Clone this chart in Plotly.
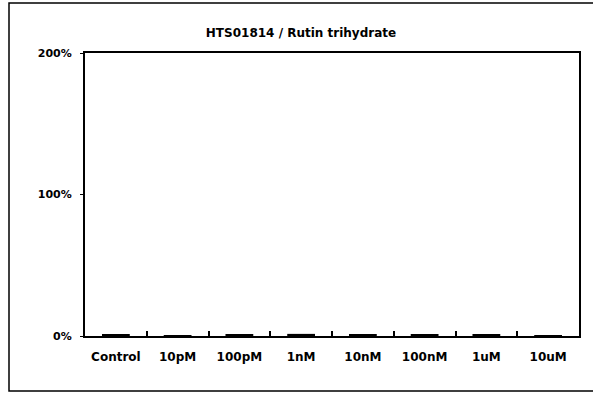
import plotly.graph_objects as go

# Assay result: response relative to control for each concentration
categories = ["Control", "10pM", "100pM", "1nM", "10nM", "100nM", "1uM", "10uM"]
response_pct = [1.0, 0.6, 1.0, 1.5, 1.4, 1.3, 1.4, 0.3]
y_ticks = [0, 100, 200]
y_tick_labels = ["0%", "100%", "200%"]
title_text = "HTS01814 / Rutin trihydrate"

W, H = 593, 394
L, R, T, B = 85, 14, 53, 58
pw, ph = W - L - R, H - T - B

family = "DejaVu Sans, Liberation Sans, Arial, sans-serif"
font = dict(family=family, size=11, color="black", weight="bold")
xfont = dict(family=family, size=12, color="black", weight="bold")

fig = go.Figure(
    go.Bar(
        x=categories,
        y=response_pct,
        width=0.45,
        marker=dict(color="black", line=dict(width=0)),
    )
)

fig.update_layout(
    width=W,
    height=H,
    margin=dict(l=L, r=R, t=T, b=B, pad=0),
    paper_bgcolor="white",
    plot_bgcolor="white",
    showlegend=False,
    font=font,
    title=dict(
        text=title_text,
        x=(301 - L) / pw,
        xref="paper",
        xanchor="center",
        y=1 - 33 / H,
        yref="container",
        yanchor="middle",
        font=dict(family=family, size=12, color="black", weight="bold"),
    ),
    xaxis=dict(
        type="category",
        showline=True,
        linecolor="black",
        linewidth=2,
        mirror=True,
        ticks="inside",
        tickson="boundaries",
        ticklen=5,
        tickwidth=1.5,
        tickcolor="black",
        showgrid=False,
        tickfont=xfont,
        ticklabelstandoff=9,
    ),
    yaxis=dict(
        range=[0, 200],
        tickvals=y_ticks,
        ticktext=y_tick_labels,
        showline=True,
        linecolor="black",
        linewidth=2,
        mirror=True,
        ticks="outside",
        ticklen=3,
        tickwidth=1,
        tickcolor="black",
        showgrid=False,
        zeroline=False,
        tickfont=font,
        ticklabelstandoff=6,
    ),
    shapes=[
        dict(
            type="rect",
            xref="paper",
            yref="paper",
            x0=(9 - L) / pw,
            x1=(596 - L) / pw,
            y0=(H - B - 391) / ph,
            y1=(H - B - 3) / ph,
            line=dict(color="black", width=1.5),
            fillcolor="rgba(0,0,0,0)",
            layer="below",
        )
    ],
)

fig.write_html("out.html")
